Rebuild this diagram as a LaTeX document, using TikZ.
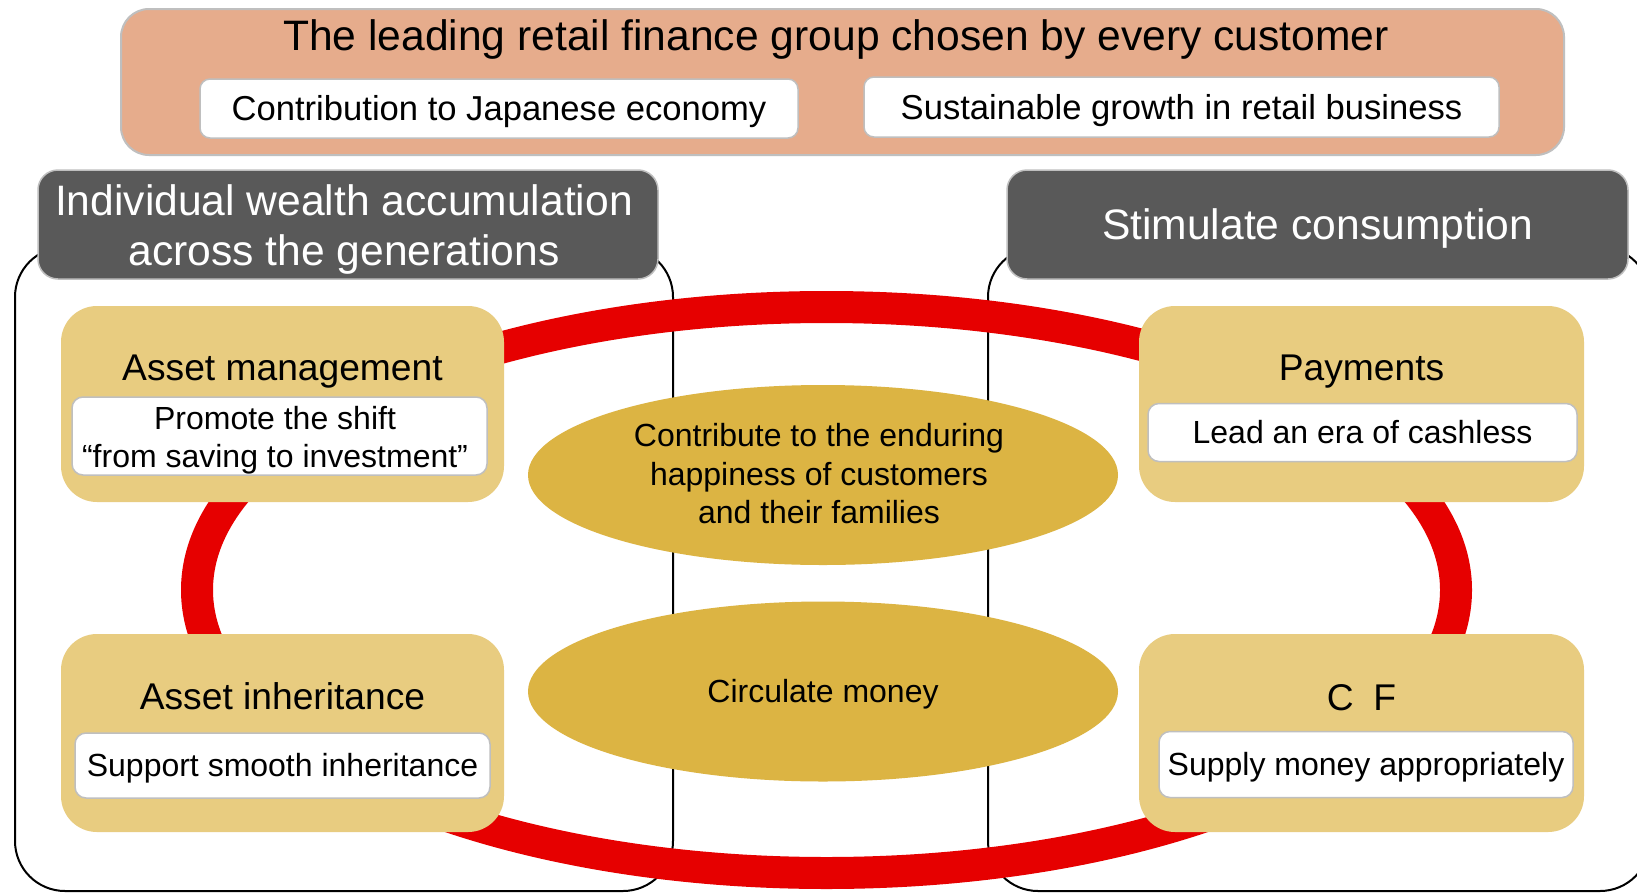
\documentclass[tikz,border=0pt]{standalone}
\usepackage{fontspec}
\setmainfont{Liberation Sans}
\usetikzlibrary{shapes.geometric}

\definecolor{visionfill}{HTML}{E6AC8C}
\definecolor{edgegray}{HTML}{BFBFBF}
\definecolor{themefill}{HTML}{595959}
\definecolor{areafill}{HTML}{E8CC80}
\definecolor{corefill}{HTML}{DCB443}
\definecolor{ringred}{HTML}{E60000}

\newcommand\sizeTitle{\fontsize{42.6pt}{50pt}\selectfont}
\newcommand\sizeHead{\fontsize{37.2pt}{44pt}\selectfont}
\newcommand\sizeGoal{\fontsize{34.6pt}{41pt}\selectfont}
\newcommand\sizeBody{\fontsize{32pt}{38.5pt}\selectfont}

\begin{document}
\begin{tikzpicture}[x=1pt,y=-1pt,
  every node/.style={inner sep=0pt, outer sep=0pt},
  capTitle/.style={font=\sizeTitle, text height=30.5pt, text depth=0pt},
  capHead/.style={font=\sizeHead, text height=26.6pt, text depth=0pt},
  capGoal/.style={font=\sizeGoal, text height=24.8pt, text depth=0pt},
  capBody/.style={font=\sizeBody, text height=22.9pt, text depth=0pt},
  visionbox/.style={draw=edgegray, line width=2pt, fill=visionfill, rounded corners=28pt},
  goalbox/.style={draw=edgegray, line width=1.5pt, fill=white, rounded corners=10pt},
  themebox/.style={draw=edgegray, line width=1.5pt, fill=themefill, rounded corners=20pt},
  areabox/.style={fill=areafill, rounded corners=36pt},
  actionbox/.style={draw=edgegray, line width=1.5pt, fill=white, rounded corners=11pt},
  corebox/.style={ellipse, fill=corefill, font=\sizeBody, align=center},
  frameline/.style={draw=black, line width=2pt, rounded corners=50pt},
  ring/.style={draw=ringred, line width=32pt}
]
\useasboundingbox (0,0) rectangle (1637,894);
\clip (0,0) rectangle (1637,894);
\fill[white] (0,0) rectangle (1637,894);

% two group frames
\draw[frameline] (15,247) rectangle (673,891);
\draw[frameline] (988,247) rectangle (1650,891);

% money circulation ring
\draw[ring] (826.5,590) ellipse [x radius=629.5, y radius=283];

% business areas
\node[areabox, minimum width=443pt, minimum height=196pt] (am) at (282.5,404) {};
\node[areabox, minimum width=443pt, minimum height=198pt] (ai) at (282.5,733) {};
\node[areabox, minimum width=445pt, minimum height=196pt] (pay) at (1361.5,404) {};
\node[areabox, minimum width=445pt, minimum height=198pt] (cf) at (1361.5,733) {};

\node[capHead] (amtitle) at (282.5,367) {Asset management};
\node[capHead] (aititle) at (282.5,696.5) {Asset inheritance};
\node[capHead] (paytitle) at (1361.5,367) {Payments};
\node[capHead] (cftitle) at (1361.5,697) {C\hspace{19.5pt}F};

\node[actionbox, minimum width=415pt, minimum height=78pt] (amact) at (279.5,436) {};
\node[font=\sizeBody, align=center] (amtext) at (275,440) {Promote the shift\\“from saving to investment”};
\node[actionbox, capBody, minimum width=415pt, minimum height=65pt] (aiact) at (282.5,765.5) {Support smooth inheritance};
\node[actionbox, capBody, minimum width=429pt, minimum height=58pt] (payact) at (1362.5,432.5) {Lead an era of cashless};
\node[actionbox, capBody, minimum width=414pt, minimum height=66pt] (cfact) at (1366,764.5) {Supply money appropriately};

% core values
\node[corebox, minimum width=590pt, minimum height=180pt] (happy) at (823,475) {};
\node[font=\sizeBody, align=center] (happytext) at (819,474) {Contribute to the enduring\\happiness of customers\\and their families};
\node[corebox, capBody, minimum width=590pt, minimum height=180pt] (circ) at (823,691.5) {Circulate money};

% theme headers
\node[themebox, minimum width=620pt, minimum height=109pt] (wealth) at (348,224.5) {};
\node[font=\sizeTitle, align=center, text=white] (wealthtext) at (344,229) {Individual wealth accumulation\\across the generations};
\node[themebox, capTitle, text=white, minimum width=621pt, minimum height=109pt] (consume) at (1317.5,224.5) {Stimulate consumption};

% group vision
\node[visionbox, minimum width=1443pt, minimum height=146pt] (vision) at (842.5,82) {};
\node[capTitle] (visiontext) at (836,35) {The leading retail finance group chosen by every customer};
\node[goalbox, capGoal, minimum width=598pt, minimum height=59pt] (economy) at (499,108.5) {Contribution to Japanese economy};
\node[goalbox, capGoal, minimum width=635pt, minimum height=60pt] (growth) at (1181.5,107) {Sustainable growth in retail business};
\end{tikzpicture}
\end{document}
